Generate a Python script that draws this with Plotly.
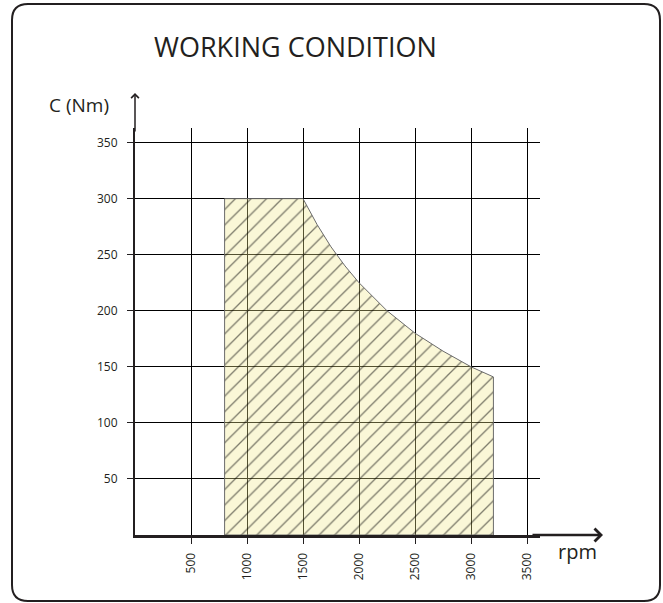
import plotly.graph_objects as go

# ---- data ----
rpm_area = [800, 800, 1500, 1625, 1750, 1875, 2000, 2250, 2500, 2750, 3000, 3200, 3200, 800]
torque_area = [0, 300, 300, 277, 257, 240, 225, 200, 180, 164, 150, 141, 0, 0]
x_ticks = [500, 1000, 1500, 2000, 2500, 3000, 3500]
y_ticks = [50, 100, 150, 200, 250, 300, 350]
title_text = "WORKING CONDITION"
y_label = "C (Nm)"
x_label = "rpm"

W, H = 663, 603
# plot area in pixel coords
X0, X1, Y0, Y1 = 135, 540, 128, 535
ML, MR, MT, MB = X0, W - X1, Y0, H - Y1
PW, PH = X1 - X0, Y1 - Y0

def px(x):
    return (x - X0) / PW

def py(y):
    return (Y1 - y) / PH

fig = go.Figure()
fig.add_trace(go.Scatter(
    x=rpm_area, y=torque_area, mode="lines", fill="toself",
    line=dict(color="#6b6b6b", width=1),
    fillcolor="rgba(240,232,140,0.35)",
    fillpattern=dict(shape="/", size=11, solidity=0.12,
                     fgcolor="#000000", bgcolor="rgba(240,232,140,0.35)"),
    hoverinfo="skip", showlegend=False,
))

font_small = dict(family="Open Sans", size=12, color="#231f20")

fig.update_xaxes(
    range=[0, 3616], tickvals=x_ticks, ticktext=[str(v) for v in x_ticks],
    tickangle=-90, ticks="outside", ticklen=6, tickcolor="#231f20", tickwidth=1,
    showgrid=True, gridcolor="#000000", gridwidth=1, zeroline=False,
    showline=True, linecolor="#231f20", linewidth=3, tickfont=font_small,
    ticklabelstandoff=4, fixedrange=True,
)
fig.update_yaxes(
    range=[0, 363], tickvals=y_ticks, ticktext=[str(v) for v in y_ticks],
    ticks="outside", ticklen=6, tickcolor="#231f20", tickwidth=1,
    showgrid=True, gridcolor="#000000", gridwidth=1, zeroline=False,
    showline=True, linecolor="#231f20", linewidth=2, tickfont=font_small,
    ticklabelstandoff=7, fixedrange=True,
)

# rounded border
L, R, T, B, r = 12, 660, 4, 601, 16
path = (f"M {px(L)},{py(T + r)} L {px(L)},{py(B - r)} Q {px(L)},{py(B)} {px(L + r)},{py(B)} "
        f"L {px(R - r)},{py(B)} Q {px(R)},{py(B)} {px(R)},{py(B - r)} "
        f"L {px(R)},{py(T + r)} Q {px(R)},{py(T)} {px(R - r)},{py(T)} "
        f"L {px(L + r)},{py(T)} Q {px(L)},{py(T)} {px(L)},{py(T + r)} Z")
fig.add_shape(type="path", xref="paper", yref="paper", path=path,
              line=dict(color="#231f20", width=2), layer="above")

def label(x, y, text, size):
    return dict(x=px(x), y=py(y), xref="paper", yref="paper", text=text,
                showarrow=False, xanchor="center", yanchor="middle",
                font=dict(family="Open Sans", size=size, color="#231f20"))

annotations = [
    label(295, 46, title_text, 27),
    label(79, 105, y_label, 19),
    label(577, 551, x_label, 20),
    # axis arrows
    dict(x=0, y=py(93), xref="paper", yref="paper", ax=0, ay=40, text="",
         showarrow=True, arrowhead=4, arrowsize=1, arrowwidth=1.5, arrowcolor="#231f20"),
    dict(x=px(603), y=0, xref="paper", yref="paper", ax=-72, ay=0, text="",
         showarrow=True, arrowhead=4, arrowsize=1, arrowwidth=2.5, arrowcolor="#231f20"),
]

fig.update_layout(
    width=W, height=H, autosize=False,
    margin=dict(l=ML, r=MR, t=MT, b=MB),
    plot_bgcolor="white", paper_bgcolor="white",
    annotations=annotations, showlegend=False,
)

fig.write_html(
    "out.html", config={"displayModeBar": False},
    post_script="document.body.style.margin='0px';document.body.style.overflow='hidden';",
)
